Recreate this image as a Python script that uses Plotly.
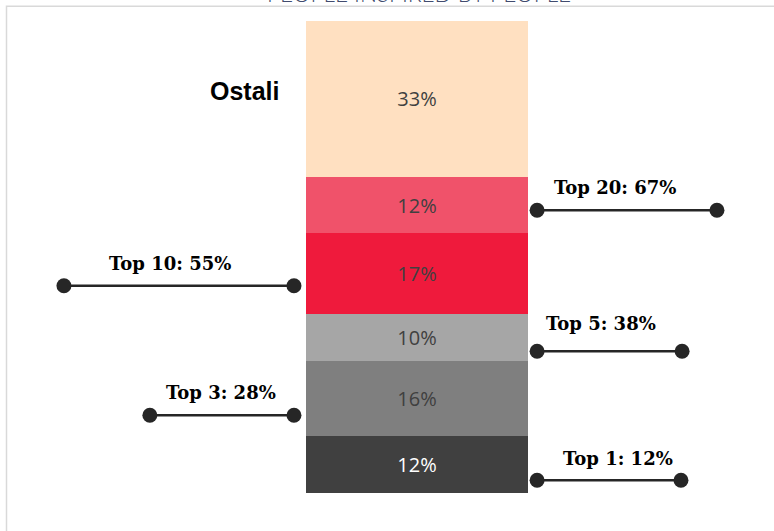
import plotly.graph_objects as go

# segments of the bar, from bottom to top
segments = ["Top 1", "Top 2-3", "Top 4-5", "Top 6-10", "Top 11-20", "Ostali"]
shares = [12, 16, 10, 17, 12, 33]
colors = ["#404040", "#7f7f7f", "#a6a6a6", "#ef1a3c", "#f0526a", "#ffe0c1"]
text_colors = ["#ffffff", "#404040", "#404040", "#404040", "#404040", "#404040"]

# cumulative tiers shown as callouts
tiers = [1, 3, 5, 10, 20]

cum = []
total = 0
for s in shares:
    total += s
    cum.append(total)

fig = go.Figure()
for name, val, col, tcol in zip(segments, shares, colors, text_colors):
    fig.add_trace(
        go.Bar(
            x=[0],
            y=[val],
            name=name,
            width=1,
            marker=dict(color=col, line=dict(width=0)),
            text=[f"{val}%"],
            textposition="inside",
            insidetextanchor="middle",
            textfont=dict(family="Open Sans", size=20, color=tcol),
            hoverinfo="skip",
        )
    )

# callout layout: (line y, x start, x end, label x, label y)
callouts = [
    (2.69, 0.541, 1.189, 0.905, 7.35),
    (16.46, -0.554, -1.203, -0.883, 21.33),
    (30.04, 0.541, 1.194, 0.829, 35.97),
    (43.90, -0.554, -1.590, -1.113, 48.67),
    (59.89, 0.541, 1.351, 0.892, 64.77),
]

for tier, c, (ly, x0, x1, lx, ty) in zip(tiers, cum, callouts):
    fig.add_trace(
        go.Scatter(
            x=[x0, x1],
            y=[ly, ly],
            mode="lines+markers",
            line=dict(color="#262626", width=2.5),
            marker=dict(color="#262626", size=15),
            hoverinfo="skip",
            showlegend=False,
        )
    )
    fig.add_annotation(
        x=lx,
        y=ty,
        text=f"<b>Top {tier}: {c}%</b>",
        showarrow=False,
        font=dict(family="DejaVu Serif", size=18, color="#000000"),
    )

fig.add_annotation(
    x=-0.613,
    y=85.1,
    xanchor="right",
    text="<b>Ostali</b>",
    showarrow=False,
    font=dict(family="Liberation Sans", size=25, color="#000000"),
)

fig.add_annotation(
    xref="paper",
    yref="paper",
    x=0.74,
    y=1.026,
    yanchor="bottom",
    text="PEOPLE INSPIRED BY PEOPLE",
    showarrow=False,
    font=dict(family="Lato", size=22.5, color="#414b6e", weight=300),
)

fig.add_shape(
    type="rect",
    xref="paper",
    yref="paper",
    x0=0.0084,
    x1=1.05,
    y0=-0.2,
    y1=1.031,
    line=dict(color="#d9d9d9", width=1.5),
    layer="below",
)

fig.update_layout(
    width=774,
    height=531,
    barmode="stack",
    showlegend=False,
    plot_bgcolor="white",
    paper_bgcolor="white",
    margin=dict(l=0, r=0, t=21, b=38),
    xaxis=dict(range=[-1.878, 1.608], visible=False),
    yaxis=dict(range=[0, 100], visible=False),
)

fig.write_html(
    "out.html",
    config={"displayModeBar": False},
    post_script="document.body.style.margin='0px';",
)
